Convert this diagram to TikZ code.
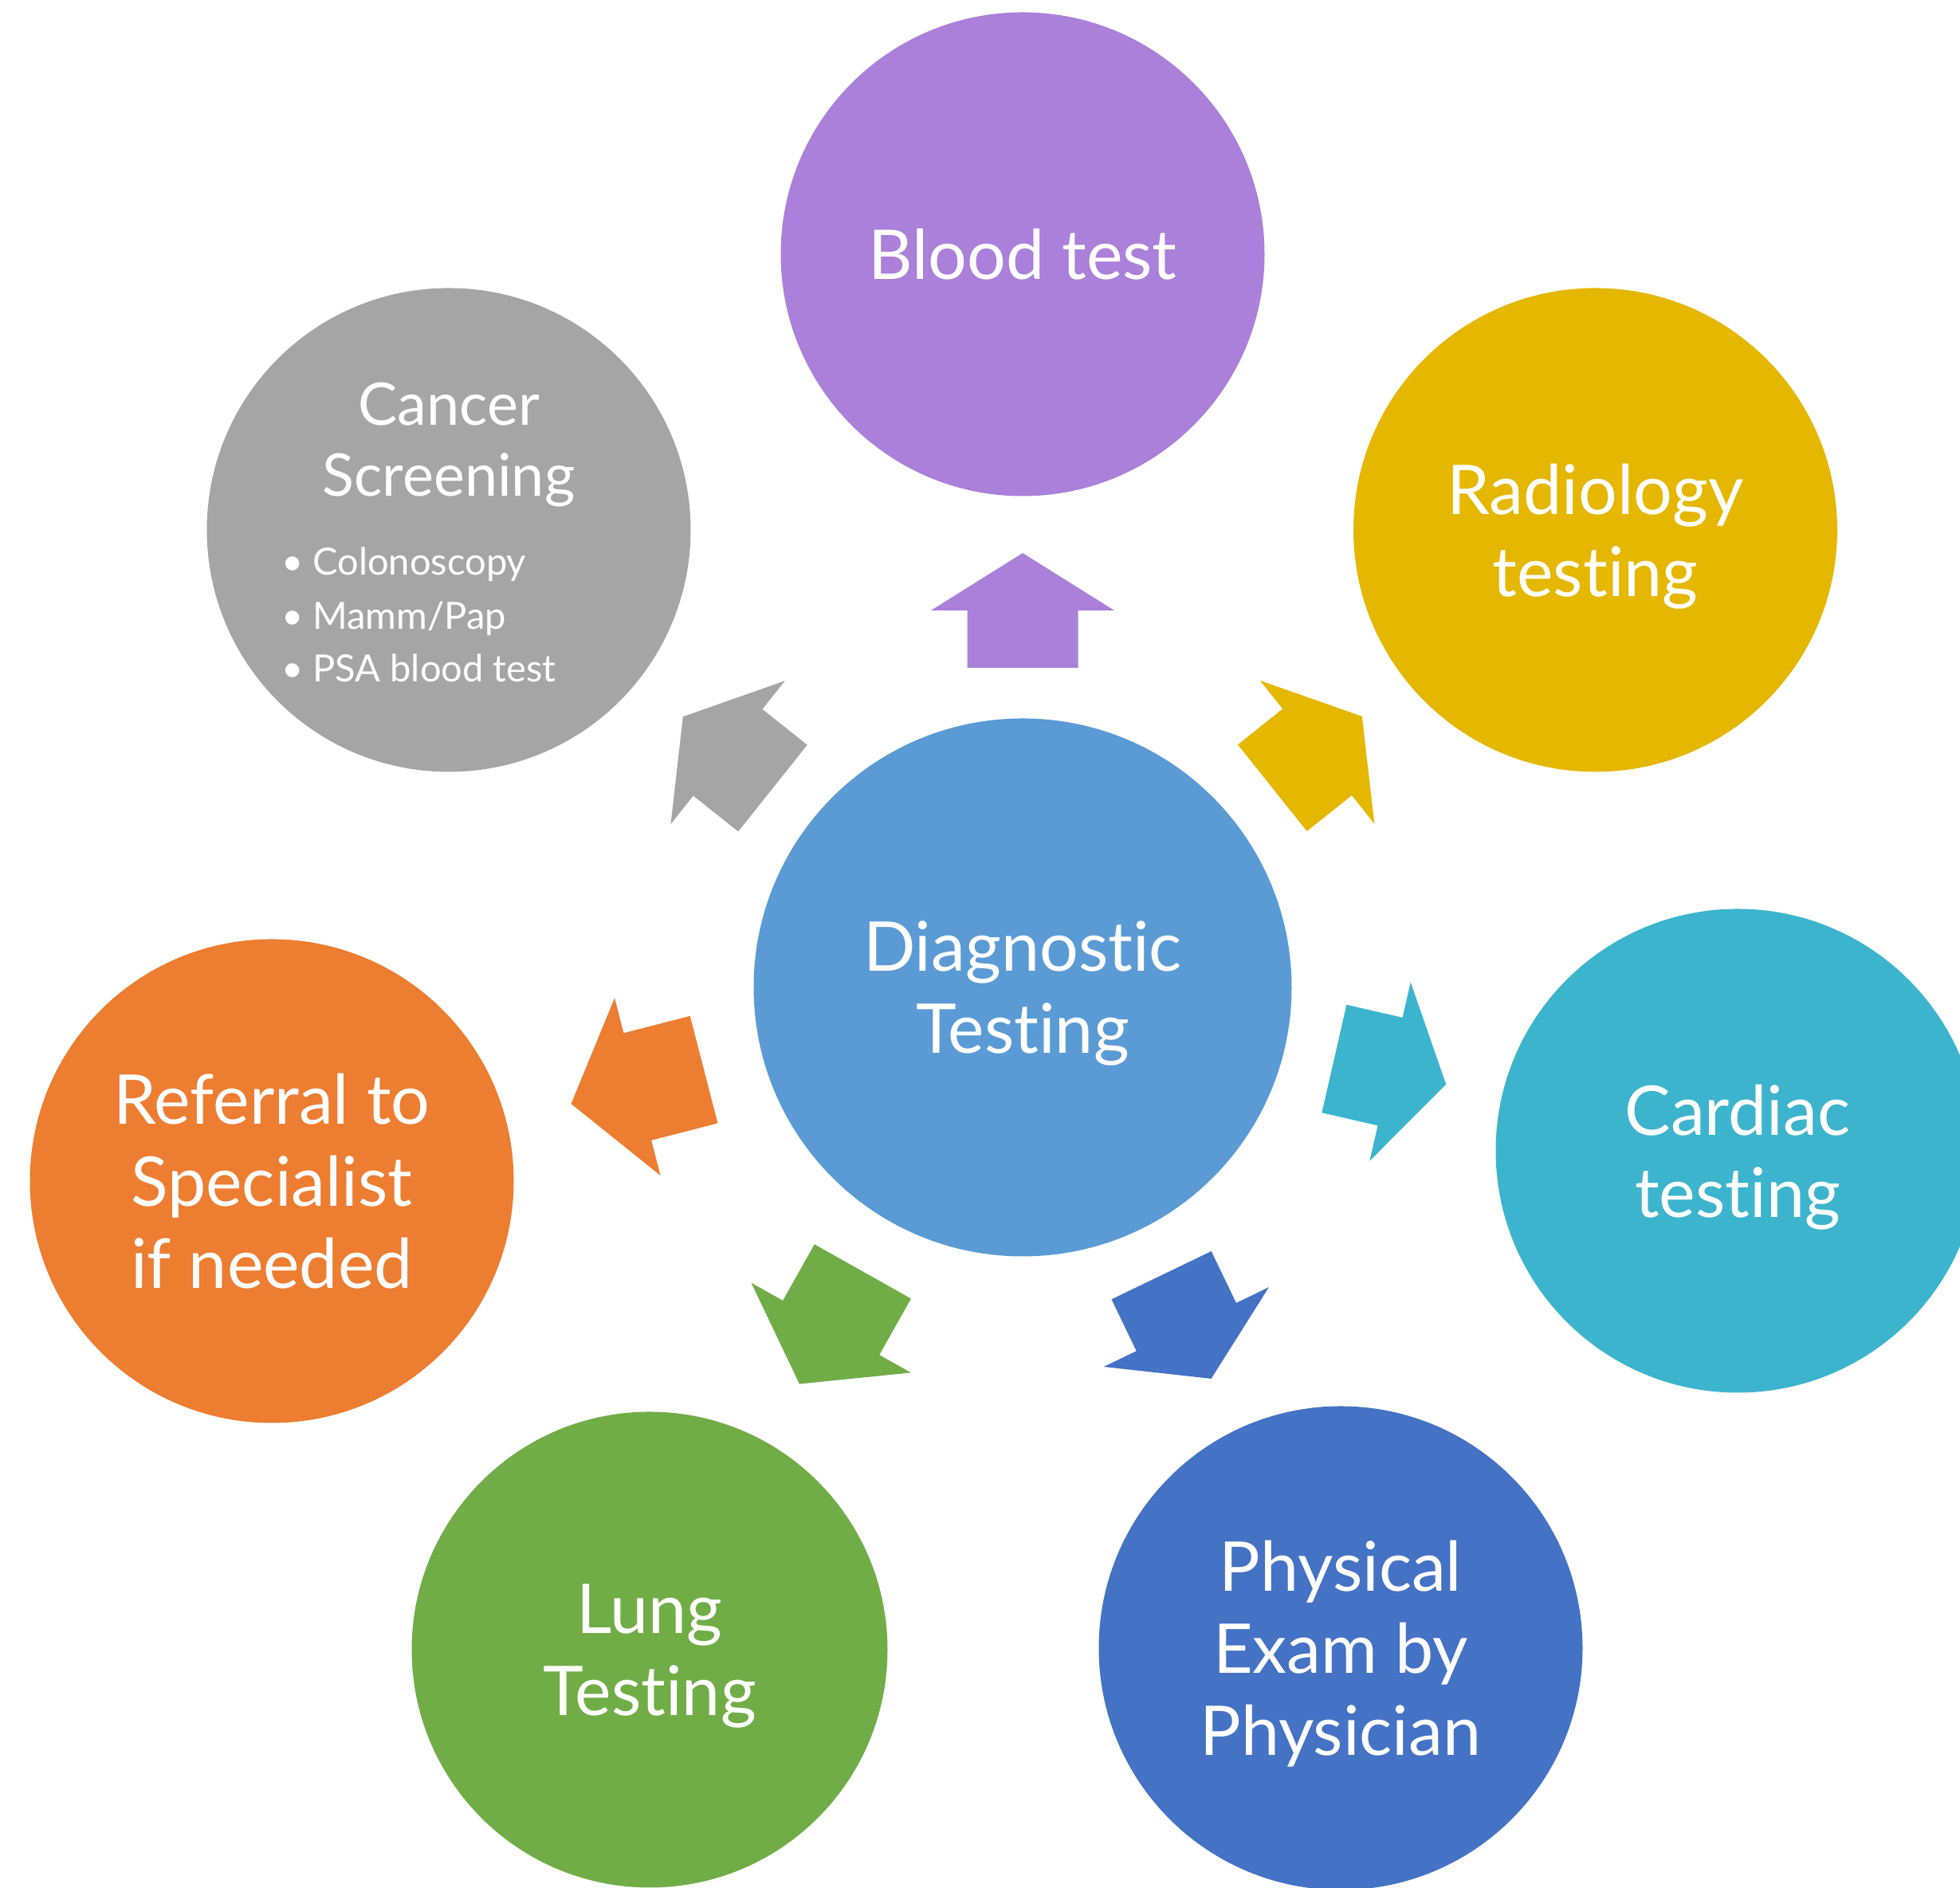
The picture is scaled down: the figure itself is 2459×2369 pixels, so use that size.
\documentclass[tikz,border=0pt]{standalone}
\usepackage{fontspec}
\setmainfont{Lato}[Ligatures={NoCommon,NoContextual}]
\definecolor{cCenter}{HTML}{5B9BD5}
\definecolor{cBlood}{HTML}{AA80DA}
\definecolor{cRadio}{HTML}{E5B700}
\definecolor{cCardiac}{HTML}{3DB4CE}
\definecolor{cPhys}{HTML}{4472C4}
\definecolor{cLung}{HTML}{70AD47}
\definecolor{cRef}{HTML}{ED7D31}
\definecolor{cCancer}{HTML}{A5A5A5}
\tikzset{
  sat/.style={circle, draw=none, minimum size=60.7mm, inner sep=0pt, text=white, align=center,
    text depth=0pt, font=\fontsize{24.5}{29.3}\selectfont},
  hub/.style={sat, minimum size=67.5mm},
  titletext/.style={anchor=base, text=white, inner sep=0pt, font=\fontsize{21}{25}\selectfont},
  bullettext/.style={anchor=base west, text=white, inner sep=0pt, font=\fontsize{13.4}{19}\selectfont},
}
\newcommand\radarrow[5]{%
  \fill[#5, shift={(ctr.center)}, rotate=#1]
    (#2,-69.5) -- (#3,-69.5) -- (#3,-115) -- (#4,0) -- (#3,115) -- (#3,69.5) -- (#2,69.5) -- cycle;}
\begin{document}
\begin{tikzpicture}[x=0.1mm,y=0.1mm]
\clip (0,0) rectangle (2459,2369);
\useasboundingbox (0,0) rectangle (2459,2369);
\node[hub, fill=cCenter] (ctr) at (1283,1130) {Diagnostic\\Testing};
\node[sat, fill=cBlood] (blood) at (1283,2050) {Blood test};
\node[sat, fill=cRadio] (radio) at (2001.5,1704) {Radiology\\testing};
\node[sat, fill=cCancer] (cancer) at (563,1704) {};
\node[sat, fill=cCardiac] (cardiac) at (2180,925) {Cardiac\\testing};
\node[sat, fill=cPhys] (phys) at (1682,301) {Physical\\Exam by\\Physician};
\node[sat, fill=cLung, minimum size=59.7mm] (lung) at (815,299) {Lung\\Testing};
\node[sat, fill=cRef] (ref) at (341,887) {Referral to\\Specialist\\if needed};
\node[titletext] (cancerA) at (563,1835) {Cancer};
\node[titletext] (cancerB) at (563,1746) {Screening};
\node[bullettext] (bulA) at (353,1647) {\makebox[11pt][l]{•}Colonoscopy};
\node[bullettext] (bulB) at (353,1579) {\makebox[11pt][l]{•}Mamm/Pap};
\node[bullettext] (bulC) at (353,1513) {\makebox[11pt][l]{•}PSA blood test};
\radarrow{90}{401}{473}{545}{cBlood}
\radarrow{38.62}{401}{473}{545}{cRadio}
\radarrow{-12.9}{401}{473}{545}{cCardiac}
\radarrow{-64.27}{401}{473}{545}{cPhys}
\radarrow{-119.37}{409}{490}{571}{cLung}
\radarrow{194.46}{413}{499}{585}{cRef}
\radarrow{141.44}{401}{473}{545}{cCancer}
\end{tikzpicture}
\end{document}
